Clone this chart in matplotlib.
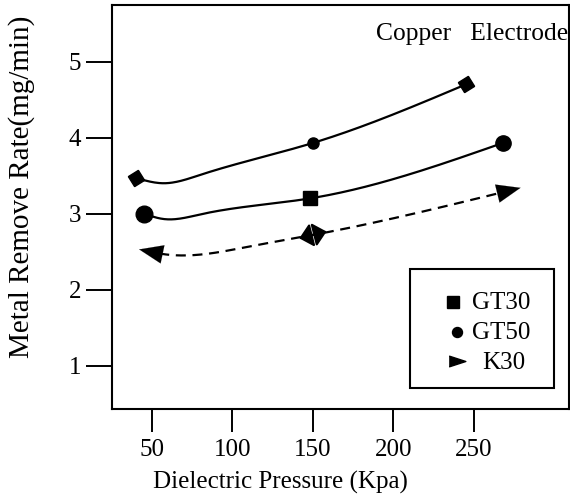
import numpy as np
import matplotlib
matplotlib.use("Agg")
import matplotlib.pyplot as plt

plt.rcParams['font.family'] = ['Liberation Serif', 'DejaVu Serif']
plt.rcParams['font.size'] = 18

# measured points (marker positions)
gt30_x = [40, 150, 245]
gt30_y = [3.47, 3.93, 4.70]
gt50_x = [45, 148, 268]
gt50_y = [3.00, 3.20, 3.93]
k30_mid = (150, 2.72)

# points along each drawn curve
top_curve_x = [40, 57, 80, 150, 245]
top_curve_y = [3.47, 3.40, 3.51, 3.93, 4.70]
mid_curve_x = [45, 57, 80, 148, 268]
mid_curve_y = [3.00, 2.93, 2.99, 3.20, 3.93]
k30_curve_x = [42, 60, 111, 150, 279]
k30_curve_y = [2.53, 2.46, 2.57, 2.72, 3.34]

xticks = [50, 100, 150, 200, 250]
yticks = [1, 2, 3, 4, 5]


def natural_spline(xs, ys, n=300):
    # natural cubic spline y(x) through the given points
    x = np.asarray(xs, float)
    y = np.asarray(ys, float)
    k = len(x)
    h = np.diff(x)
    A = np.zeros((k, k))
    b = np.zeros(k)
    A[0, 0] = A[-1, -1] = 1
    for i in range(1, k - 1):
        A[i, i - 1] = h[i - 1]
        A[i, i] = 2 * (h[i - 1] + h[i])
        A[i, i + 1] = h[i]
        b[i] = 6 * ((y[i + 1] - y[i]) / h[i] - (y[i] - y[i - 1]) / h[i - 1])
    M = np.linalg.solve(A, b)
    xx = np.linspace(x[0], x[-1], n)
    idx = np.clip(np.searchsorted(x, xx) - 1, 0, k - 2)
    x0, x1 = x[idx], x[idx + 1]
    hh = x1 - x0
    yy = (M[idx] * (x1 - xx) ** 3 / (6 * hh) + M[idx + 1] * (xx - x0) ** 3 / (6 * hh)
          + (y[idx] / hh - M[idx] * hh / 6) * (x1 - xx)
          + (y[idx + 1] / hh - M[idx + 1] * hh / 6) * (xx - x0))
    return xx, yy


fig = plt.figure(figsize=(5.7, 4.97), dpi=100)
ax = fig.add_axes([0.196, 0.177, 0.802, 0.813])
ax.set_xlim(25, 309)
ax.set_ylim(0.43, 5.745)

lw = 1.6
ax.plot(*natural_spline(top_curve_x, top_curve_y), color='black', lw=lw)
ax.plot(*natural_spline(mid_curve_x, mid_curve_y), color='black', lw=lw)
kx, ky = natural_spline(k30_curve_x, k30_curve_y)
ax.plot(kx[3:-6], ky[3:-6], color='black', lw=lw, linestyle=(0, (4.5, 3)))

# markers
ax.plot([gt30_x[0], gt30_x[2]], [gt30_y[0], gt30_y[2]], linestyle='none',
        marker=(4, 0, -13), markersize=12, color='black')
ax.plot(gt30_x[1], gt30_y[1], marker='o', markersize=8, color='black')
ax.plot(gt50_x[0], gt50_y[0], marker='o', markersize=12, color='black')
ax.plot(gt50_x[2], gt50_y[2], marker='o', markersize=11, color='black')
ax.plot(gt50_x[1], gt50_y[1], marker='s', markersize=10, color='black')

# arrow heads on the dashed curve
head = '-|>,head_length=0.95,head_width=0.37'
ax.annotate('', xy=(kx[0], ky[0]), xytext=(kx[12], ky[12]),
            arrowprops=dict(arrowstyle=head, color='black', lw=0.1,
                            shrinkA=0, shrinkB=0))
ax.annotate('', xy=(kx[-1], ky[-1]), xytext=(kx[-14], ky[-14]),
            arrowprops=dict(arrowstyle=head, color='black', lw=0.1,
                            shrinkA=0, shrinkB=0))
ax.annotate('', xy=(k30_mid[0] + 8.5, k30_mid[1] + 0.045),
            xytext=(k30_mid[0] - 8.5, k30_mid[1] - 0.045),
            arrowprops=dict(arrowstyle='<|-|>,head_length=0.44,head_width=0.4',
                            color='black', lw=1.6, shrinkA=0, shrinkB=0))

ax.set_xticks(xticks)
ax.set_yticks(yticks)
ax.tick_params(axis='x', direction='out', length=16.5, width=1.4, pad=5)
ax.tick_params(axis='y', direction='out', length=18.5, width=1.4, pad=3.5)
for s in ax.spines.values():
    s.set_linewidth(1.5)

ax.set_xlabel('Dielectric Pressure (Kpa)')
ax.xaxis.set_label_coords(0.37, -0.152)
ax.set_ylabel('Metal Remove Rate(mg/min)', fontsize=21)
ax.yaxis.set_label_coords(-0.168, 0.55)

ax.text(0.998, 0.913, 'Copper   Electrode', transform=ax.transAxes,
        ha='right', va='baseline', fontsize=18.4)

# legend box
ax.add_patch(plt.Rectangle((0.653, 0.052), 0.315, 0.295, transform=ax.transAxes,
                           fill=False, lw=1.5, color='black'))
ax.plot(0.747, 0.265, marker='s', markersize=9, color='black', transform=ax.transAxes)
ax.plot(0.756, 0.191, marker='o', markersize=7.2, color='black', transform=ax.transAxes)
ax.plot(0.756, 0.119, marker=[(-1, -0.65), (1, 0), (-1, 0.65)], markersize=12,
        color='black', transform=ax.transAxes)
ax.text(0.788, 0.248, 'GT30', transform=ax.transAxes, va='baseline')
ax.text(0.788, 0.173, 'GT50', transform=ax.transAxes, va='baseline')
ax.text(0.810, 0.099, 'K30', transform=ax.transAxes, va='baseline')

fig.savefig('out.png', dpi=100)
